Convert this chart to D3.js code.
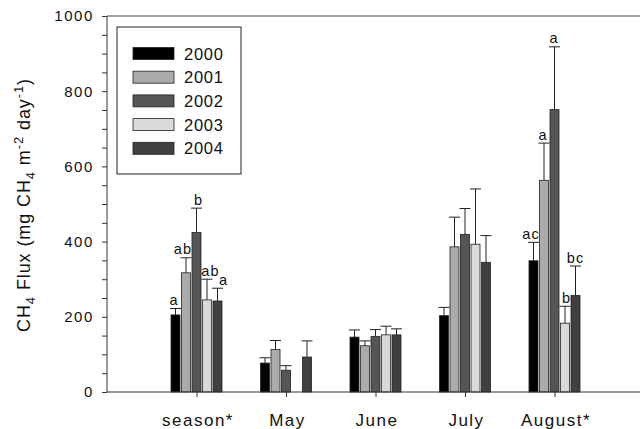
<!DOCTYPE html>
<html>
<head>
<meta charset="utf-8">
<script src="https://cdn.jsdelivr.net/npm/d3@7"></script>
<style>
  body { margin: 0; background: #fff; }
  svg { font-family: "Liberation Sans", Arial, sans-serif; }
</style>
</head>
<body>
<svg width="640" height="429"></svg>
<script>
// categories and series
var categories = ["season*", "May", "June", "July", "August*"];
var years = ["2000", "2001", "2002", "2003", "2004"];
var colors = ["#000000", "#ababab", "#555555", "#d9d9d9", "#404040"];

// mean flux per year, one value per category (null = no data)
var mean2000 = [205, 77, 146, 203, 349];
var mean2001 = [317, 113, 123, 386, 563];
var mean2002 = [424, 58, 148, 419, 751];
var mean2003 = [245, null, 152, 393, 183];
var mean2004 = [242, 93, 152, 345, 257];

// top of error bar
var err2000 = [222, 91, 165, 225, 398];
var err2001 = [357, 137, 136, 465, 662];
var err2002 = [489, 70, 166, 488, 918];
var err2003 = [300, null, 175, 540, 228];
var err2004 = [276, 136, 168, 416, 335];

// significance letters
var letters2000 = ["a", "", "", "", "ac"];
var letters2001 = ["ab", "", "", "", "a"];
var letters2002 = ["b", "", "", "", "a"];
var letters2003 = ["ab", "", "", "", "b"];
var letters2004 = ["a", "", "", "", "bc"];

var yTicks = [0, 200, 400, 600, 800, 1000];

var means = [mean2000, mean2001, mean2002, mean2003, mean2004];
var errs = [err2000, err2001, err2002, err2003, err2004];
var letters = [letters2000, letters2001, letters2002, letters2003, letters2004];

var rows = [];
categories.forEach(function(c, ci) {
    years.forEach(function(yr, yi) {
        if (means[yi][ci] != null) {
            rows.push({ cat: c, ci: ci, yi: yi, value: means[yi][ci], err: errs[yi][ci], label: letters[yi][ci] });
        }
    });
});

var svg = d3.select("svg");

var x = d3.scaleLinear().domain([0, 6]).range([107, 644]);
var y = d3.scaleLinear().domain([0, 1000]).range([392, 16]);
var barPitch = 10.5, barWidth = 9;

function barCenter(d) {
    return x(d.ci + 1) + (d.yi - 2) * barPitch;
}

// letters are pushed sideways a little so they clear neighbouring bars
function letterNudge(d) {
    if (d.ci == 0) return [-2, -3.5, 1.5, 3, 5.5][d.yi];
    if (d.ci == 4) return [-3, -1.5, -1, 1, -0.5][d.yi];
    return 0;
}

// bars
svg.append("g")
    .selectAll("rect")
    .data(rows)
    .enter()
    .append("rect")
    .attr("x", function(d) { return barCenter(d) - barWidth / 2; })
    .attr("y", function(d) { return y(d.value); })
    .attr("width", barWidth)
    .attr("height", function(d) { return y(0) - y(d.value); })
    .attr("fill", function(d) { return colors[d.yi]; })
    .attr("stroke", "#222")
    .attr("stroke-width", 0.8);

// error bars
var eb = svg.append("g").attr("stroke", "#222").attr("stroke-width", 1);
eb.selectAll("line.v")
    .data(rows)
    .enter()
    .append("line")
    .attr("class", "v")
    .attr("x1", barCenter).attr("x2", barCenter)
    .attr("y1", function(d) { return y(d.value); })
    .attr("y2", function(d) { return y(d.err); });
eb.selectAll("line.cap")
    .data(rows)
    .enter()
    .append("line")
    .attr("class", "cap")
    .attr("x1", function(d) { return barCenter(d) - 5.5; })
    .attr("x2", function(d) { return barCenter(d) + 5.5; })
    .attr("y1", function(d) { return y(d.err); })
    .attr("y2", function(d) { return y(d.err); });

// letters
svg.append("g")
    .selectAll("text")
    .data(rows.filter(function(d) { return d.label != ""; }))
    .enter()
    .append("text")
    .attr("x", function(d) { return barCenter(d) + 0.6 + letterNudge(d); })
    .attr("y", function(d) { return y(d.err) - 3.5; })
    .attr("text-anchor", "middle")
    .attr("font-size", 14.5)
    .attr("letter-spacing", 1.2)
    .attr("fill", "#111")
    .text(function(d) { return d.label; });

// y axis
var yAxis = svg.append("g")
    .attr("transform", "translate(107,0)")
    .call(d3.axisLeft(y).tickValues(d3.range(0, 1001, 50)).tickSize(5).tickFormat(function(v) {
        return yTicks.indexOf(v) >= 0 ? v : "";
    }));
yAxis.select(".domain").attr("stroke", "#333").attr("d", "M0," + y(0) + "V" + y(1000));
yAxis.selectAll(".tick line").attr("stroke", "#333");
yAxis.selectAll(".tick text").attr("font-size", 15).attr("fill", "#111").attr("x", -13)
    .attr("letter-spacing", 1.6)
    .attr("font-family", "Liberation Sans, Arial, sans-serif");

// x axis
var xAxis = svg.append("g")
    .attr("transform", "translate(0," + y(0) + ")")
    .call(d3.axisBottom(x).tickValues([1, 2, 3, 4, 5]).tickSize(5).tickFormat(function(v) {
        return categories[v - 1];
    }));
xAxis.select(".domain").attr("stroke", "#333").attr("d", "M107,0H640");
xAxis.selectAll(".tick line").attr("stroke", "#333");
xAxis.selectAll(".tick text").attr("font-size", 17).attr("fill", "#111")
    .attr("y", 34).attr("dy", 0).attr("dx", 1)
    .attr("font-family", "Liberation Sans, Arial, sans-serif")
    .attr("letter-spacing", 1.5);

// top frame line
svg.append("line")
    .attr("x1", 107).attr("x2", 640)
    .attr("y1", y(1000)).attr("y2", y(1000))
    .attr("stroke", "#444");

// y axis title
var title = svg.append("text")
    .attr("transform", "translate(30," + 205 + ") rotate(-90)")
    .attr("text-anchor", "middle")
    .attr("font-size", 18)
    .attr("letter-spacing", 0.9)
    .attr("fill", "#111");
title.append("tspan").text("CH");
title.append("tspan").attr("dy", 5).attr("font-size", 13).text("4");
title.append("tspan").attr("dy", -5).text(" Flux (mg CH");
title.append("tspan").attr("dy", 5).attr("font-size", 13).text("4");
title.append("tspan").attr("dy", -5).text(" m");
title.append("tspan").attr("dy", -7).attr("font-size", 13).text("-2");
title.append("tspan").attr("dy", 7).text(" day");
title.append("tspan").attr("dy", -7).attr("font-size", 13).text("-1");
title.append("tspan").attr("dy", 7).text(")");

// legend
var legend = svg.append("g");
legend.append("rect")
    .attr("x", 117).attr("y", 27)
    .attr("width", 124).attr("height", 147)
    .attr("fill", "#fff").attr("stroke", "#222");
var items = legend.selectAll("g.item")
    .data(years)
    .enter()
    .append("g")
    .attr("class", "item")
    .attr("transform", function(d, i) { return "translate(0," + (53.5 + i * 23.7) + ")"; });
items.append("rect")
    .attr("x", 133).attr("y", -6)
    .attr("width", 41).attr("height", 12)
    .attr("fill", function(d, i) { return colors[i]; })
    .attr("stroke", "#222").attr("stroke-width", 0.8);
items.append("text")
    .attr("x", 184).attr("y", 6)
    .attr("font-size", 16.5)
    .attr("fill", "#111")
    .attr("letter-spacing", 0.7)
    .text(function(d) { return d; });
</script>
</body>
</html>
